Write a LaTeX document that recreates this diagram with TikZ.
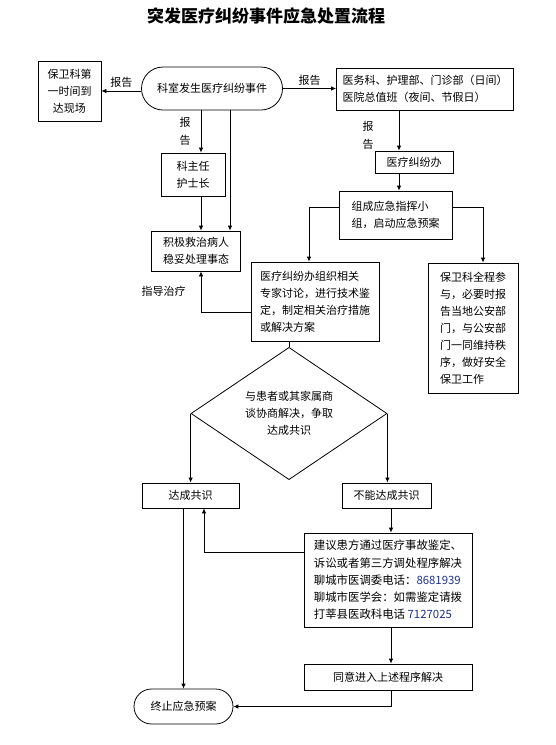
\documentclass[tikz,border=0pt]{standalone}
\usepackage{fontspec}
\setmainfont{Noto Sans CJK SC}
\usepackage{xcolor}
\usepackage{tikz}
\usetikzlibrary{shapes, arrows.meta, positioning, calc}
\definecolor{numblue}{RGB}{30,50,140}

\tikzset{
  box/.style={draw, line width=0.8pt, inner sep=0pt, align=center, font=\fontsize{11}{17}\selectfont},
  term/.style={box, rounded rectangle},
  arr/.style={-{Latex[length=5pt,width=4.5pt]}, line width=0.8pt},
  lbl/.style={font=\fontsize{11}{18}\selectfont, align=center, inner sep=1pt}
}

\begin{document}
\begin{tikzpicture}[x=1pt, y=-1pt]
      \useasboundingbox (0,0) rectangle (555,745);
      \node[font=\fontsize{17}{20}\selectfont\bfseries] (title) at (266,16) {突发医疗纠纷事件应急处置流程};

      % top row
      \node[term, minimum width=141pt, minimum height=43pt] (shijian) at (212,88.5) {科室发生医疗纠纷事件};
      \node[box, minimum width=63pt, minimum height=60pt] (baowei) at (69.5,91) {保卫科第\\一时间到\\达现场};
      \node[box, align=left, minimum width=177pt, minimum height=42pt] (yiwu) at (425,89) {医务科、护理部、门诊部（日间）\\医院总值班（夜间、节假日）};

      \draw[arr] (shijian.west |- baowei.east) -- (baowei.east) node[midway, above=2pt, lbl] {报告};
      \draw[arr] (shijian.east) -- (shijian.east -| yiwu.west) node[midway, above=2pt, lbl] {报告};

      % left branch
      \node[box, minimum width=64pt, minimum height=43pt] (kezhu) at (193,174.5) {科主任\\护士长};
      \node[box, minimum width=89pt, minimum height=40pt] (jiji) at (196,251) {积极救治病人\\稳妥处理事态};

      \draw[arr] ([xshift=8pt]kezhu.north |- shijian.south) -- ([xshift=8pt]kezhu.north) node[midway, left=9pt, lbl] {报\\告};
      \draw[arr] ([xshift=8pt]kezhu.south) -- ([xshift=8pt]kezhu.south |- jiji.north);
      \draw[arr] ([xshift=18pt]shijian.south) -- ([xshift=18pt]shijian.south |- jiji.north);

      % right branch
      \node[box, minimum width=78pt, minimum height=22pt] (jiufenban) at (414,162) {医疗纠纷办};
      \node[box, align=left, minimum width=113pt, minimum height=48pt] (zuzhi) at (395.5,215) {组成应急指挥小\\组，启动应急预案};
      \node[box, align=left, minimum width=128pt, minimum height=79pt] (jishu) at (315,301.5) {医疗纠纷办组织相关\\专家讨论，进行技术鉴\\定，制定相关治疗措施\\或解决方案};
      \node[box, align=left, minimum width=90pt, minimum height=130pt] (baowei2) at (473,328) {保卫科全程参\\与，必要时报\\告当地公安部\\门，与公安部\\门一同维持秩\\序，做好安全\\保卫工作};

      \draw[arr] ([xshift=-15pt]jiufenban.north |- yiwu.south) -- ([xshift=-15pt]jiufenban.north) node[pos=0.62, left=24pt, lbl] {报\\告};
      \draw[arr] ([xshift=-15pt]jiufenban.south) -- ([xshift=-15pt]jiufenban.south |- zuzhi.north);
      \draw[arr] ([yshift=8pt]zuzhi.west) -| ([xshift=-6pt]jishu.north);
      \draw[arr] ([yshift=8pt]zuzhi.east) -| ([xshift=10pt]baowei2.north);
      \draw[arr] ([yshift=-10.5pt]jishu.west) -| ([xshift=5pt]jiji.south) node[pos=0.75, left=14pt, lbl] {指导治疗};

      % negotiation
      \node[box, diamond, minimum width=196pt, minimum height=103pt] (xieshang) at (289,413.5) {与患者或其家属商\\谈协商解决，争取\\达成共识};
      \node[box, minimum width=97pt, minimum height=25pt] (dacheng) at (190.5,495.5) {达成共识};
      \node[box, minimum width=89pt, minimum height=25pt] (buneng) at (386.5,495.5) {不能达成共识};

      \draw[line width=0.8pt] (xieshang.north |- jishu.south) -- (xieshang.north);
      \draw[arr] (xieshang.west) -- (xieshang.west |- dacheng.north);
      \draw[arr] (xieshang.east) -- (xieshang.east |- buneng.north);

      % bottom part
      \node[box, align=left, font=\fontsize{11.4}{17.3}\selectfont, minimum width=168pt, minimum height=94pt] (jianyi) at (388,580) {建议患方通过医疗事故鉴定、\\诉讼或者第三方调处程序解决\\聊城市医调委电话：\textcolor{numblue}{8681939}\\聊城市医学会：如需鉴定请拨\\打莘县医政科电话 \textcolor{numblue}{7127025}};
      \node[box, minimum width=168pt, minimum height=26pt] (tongyi) at (388,677) {同意进入上述程序解决};
      \node[term, minimum width=99pt, minimum height=35pt] (zhongzhi) at (183.5,706.5) {终止应急预案};

      \draw[arr] ([xshift=4.5pt]buneng.south) -- ([xshift=4.5pt]buneng.south |- jianyi.north);
      \draw[arr] ([yshift=28pt]jianyi.west) -| ([xshift=13.5pt]dacheng.south);
      \draw[arr] ([xshift=3pt]jianyi.south) -- ([xshift=3pt]tongyi.north);
      \draw[arr] ([xshift=3pt]tongyi.south) |- (zhongzhi.east);
      \draw[arr] (zhongzhi.north |- dacheng.south) -- (zhongzhi.north);
\end{tikzpicture}
\end{document}
